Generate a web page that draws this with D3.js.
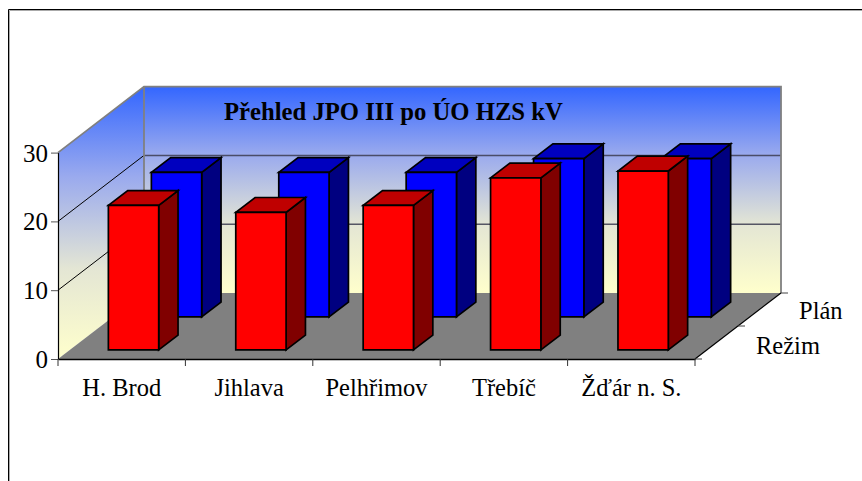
<!DOCTYPE html>
<html><head><meta charset="utf-8">
<script src="https://cdn.jsdelivr.net/npm/d3@7"></script>
<style>html,body{margin:0;padding:0;background:#fff}svg{display:block}text{font-family:"Liberation Serif",serif;fill:#000}</style>
</head><body><svg id="c" width="862" height="481"></svg>
<script>
const categories = ["H. Brod","Jihlava","Pelhřimov","Třebíč","Žďár n. S."];
const seriesNames = ["Režim","Plán"];
const rezim = [21,20,21,25,26];
const plan = [21,21,21,23,23];
const yTicks = [0,10,20,30];
const titleText = "Přehled JPO III po ÚO HZS kV";

const svg = d3.select("#c");
const X0=58,X1=695,Y0=359,DX=86,DY=-66,UNIT=6.88;
const x = d3.scaleBand().domain(categories).range([0,X1-X0]).paddingInner(0.605).paddingOuter(0.3025);
const z = d3.scaleBand().domain(seriesNames).range([0,1]).paddingInner(0.55).paddingOuter(0.275);
const y = d3.scaleLinear().domain([0,30]).range([0,30*UNIT]);
const P = (px,v,d)=>[X0+px+DX*d, Y0-y(v)+DY*d];
const poly = pts=>"M"+pts.map(p=>p.join(",")).join("L")+"Z";

const defs = svg.append("defs");
function grad(id,y1,y2){
  const g=defs.append("linearGradient").attr("id",id).attr("gradientUnits","userSpaceOnUse")
    .attr("x1",0).attr("x2",0).attr("y1",y1).attr("y2",y2);
  [[0,"#3366FF"],[0.33,"#9AAAEE"],[0.67,"#E4E6D4"],[1,"#FFFFCC"]].forEach(s=>g.append("stop").attr("offset",s[0]).attr("stop-color",s[1]));
}
const top30=y.domain()[1];
const W=X1-X0;
grad("gb",P(0,top30,1)[1],P(0,0,1)[1]);
grad("gs",P(0,top30,1)[1],P(0,0,0)[1]);

// chart frame
svg.append("path").attr("d","M9.5,481V10.5H862").attr("fill","none").attr("stroke","#aaa").attr("stroke-width",1);
svg.append("path").attr("d","M8.5,481V9.5H862").attr("fill","none").attr("stroke","#000").attr("stroke-width",1);

// walls + floor
svg.append("path").attr("d",poly([P(0,0,1),P(W,0,1),P(W,top30,1),P(0,top30,1)])).attr("fill","url(#gb)");
svg.append("path").attr("d",poly([P(0,0,0),P(0,0,1),P(0,top30,1),P(0,top30,0)])).attr("fill","url(#gs)");
svg.append("path").attr("d",poly([P(0,0,0),P(W,0,0),P(W,0,1),P(0,0,1)])).attr("fill","#808080");

// gridlines
yTicks.slice(1,-1).forEach(v=>{
  svg.append("path").attr("d",poly([P(0,v,0),P(0,v,1)]).replace("Z","")).attr("fill","none").attr("stroke","#000").attr("stroke-width",1);
  svg.append("path").attr("d",poly([P(0,v,1),P(W,v,1)]).replace("Z","")).attr("fill","none").attr("stroke","#3c3c50").attr("stroke-opacity",0.85).attr("stroke-width",1.5);
});
// wall edges
svg.append("path").attr("d","M"+[P(0,top30,0),P(0,top30,1),P(W,top30,1),P(W,0,1)].map(p=>p.join(",")).join("L")).attr("fill","none").attr("stroke","#808080").attr("stroke-width",1.8);
svg.append("path").attr("d","M"+[P(0,top30,1),P(0,0,1)].map(p=>p.join(",")).join("L")).attr("fill","none").attr("stroke","#808080").attr("stroke-width",1.8);

// bars
const palette={"Režim":["#FF0000","#800000","#BF0000"],"Plán":["#0000FF","#000080","#0000BF"]};
[["Plán",plan],["Režim",rezim]].forEach(([name,vals])=>{
  const g=svg.append("g").attr("stroke","#000").attr("stroke-width",1.7).attr("stroke-linejoin","miter");
  const d0=z(name),d1=d0+z.bandwidth(),c=palette[name];
  categories.forEach((cat,i)=>{
    const a=x(cat),b=a+x.bandwidth(),v=vals[i];
    g.append("path").attr("d",poly([P(b,0,d0),P(b,0,d1),P(b,v,d1),P(b,v,d0)])).attr("fill",c[1]);
    g.append("path").attr("d",poly([P(a,v,d0),P(b,v,d0),P(b,v,d1),P(a,v,d1)])).attr("fill",c[2]);
    g.append("path").attr("d",poly([P(a,0,d0),P(b,0,d0),P(b,v,d0),P(a,v,d0)])).attr("fill",c[0]);
  });
});

// value axis
const yAxisScale=d3.scaleLinear().domain([0,30]).range([Y0,Y0-y(30)]);
const ya=svg.append("g").attr("transform",`translate(${X0},0)`).call(d3.axisLeft(yAxisScale).tickValues(yTicks).tickSize(7).tickSizeOuter(0).tickPadding(3));
ya.select(".domain").attr("stroke","#000").attr("stroke-width",1.2);
ya.selectAll(".tick line").attr("stroke","#555");
ya.selectAll("text").attr("font-size",25).attr("font-family","Liberation Serif").attr("dy","0.34em");

// category axis
const xa=svg.append("g").attr("transform",`translate(${X0},${Y0})`).call(d3.axisBottom(x).tickSize(0).tickSizeOuter(0).tickPadding(20));
xa.select(".domain").attr("stroke","#000").attr("stroke-width",1.5);
xa.selectAll("text").attr("font-size",24.5).attr("font-family","Liberation Serif");
d3.range(categories.length+1).forEach(i=>{
  const px=i*(X1-X0)/categories.length;
  xa.append("line").attr("x1",px).attr("x2",px).attr("y1",0).attr("y2",7).attr("stroke","#333");
});

// depth axis
svg.append("path").attr("d","M"+[P(W,0,0),P(W,0,1)].map(p=>p.join(",")).join("L")).attr("fill","none").attr("stroke","#000").attr("stroke-width",1.2);
[0,0.5,1].forEach(d=>{const p=P(W,0,d);svg.append("line").attr("x1",p[0]).attr("x2",p[0]+7).attr("y1",p[1]).attr("y2",p[1]).attr("stroke","#444");});
seriesNames.forEach(n=>{
  const p=P(W,0,z(n)+z.bandwidth()/2);
  svg.append("text").attr("x",p[0]+39.5).attr("y",p[1]+(n==="Plán"?9:11)).attr("font-size",24.5).text(n);
});

// title
svg.append("text").attr("x",224).attr("y",120).attr("font-size",24.7).attr("font-weight","bold").text(titleText);
</script></body></html>
